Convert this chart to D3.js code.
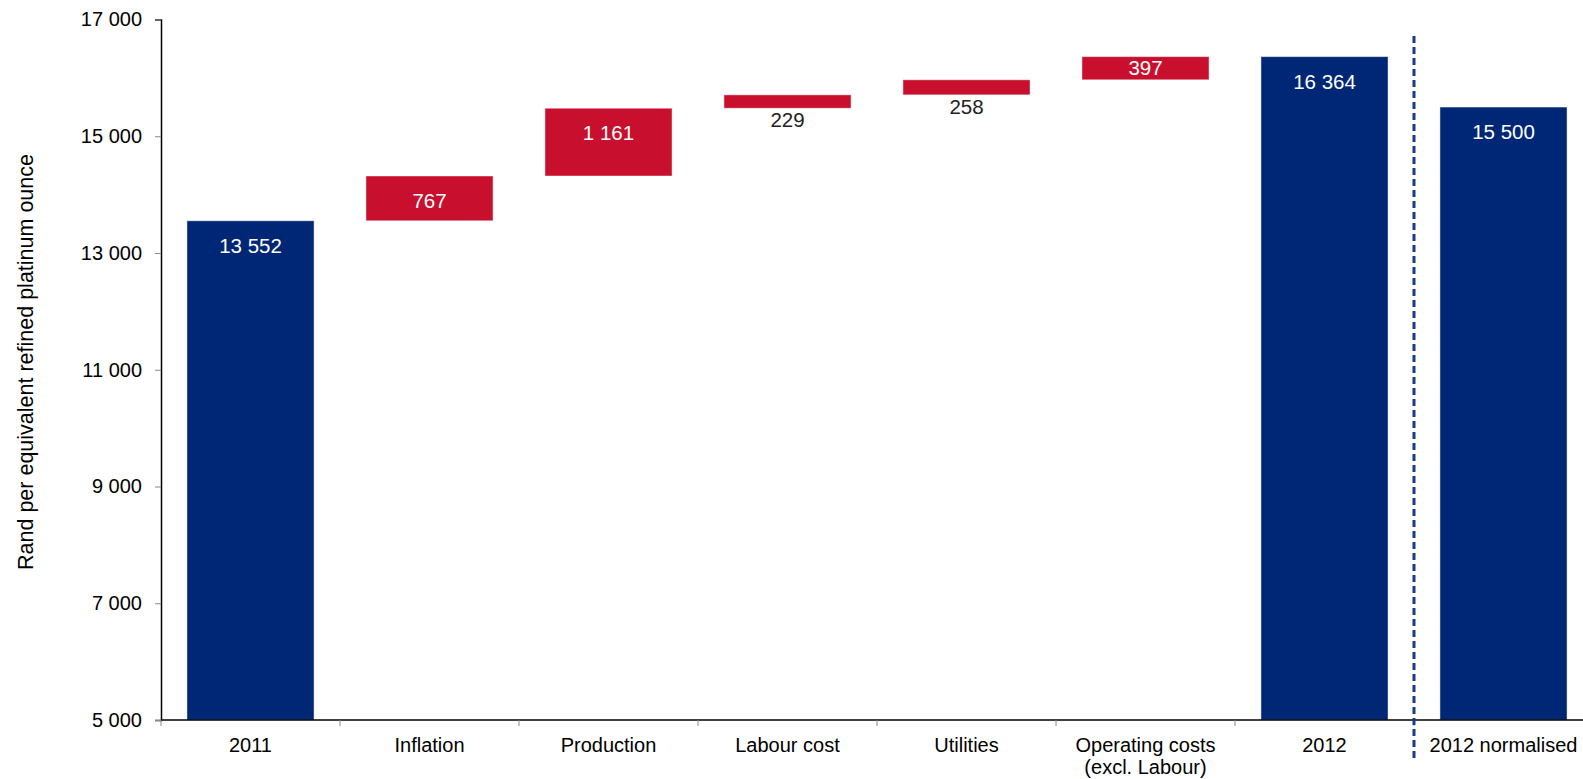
<!DOCTYPE html>
<html>
<head>
<meta charset="utf-8">
<script src="https://cdn.jsdelivr.net/npm/d3@7"></script>
<style>
  body { margin: 0; background: #fff; }
  svg { display: block; font-family: "Liberation Sans", Arial, sans-serif; }
</style>
</head>
<body>
<div id="chart"></div>
<script>
// waterfall: rand per equivalent refined platinum ounce
var categories = ['2011', 'Inflation', 'Production', 'Labour cost', 'Utilities',
  'Operating costs\n(excl. Labour)', '2012', '2012 normalised'];
var kinds = ['total', 'step', 'step', 'step', 'step', 'step', 'total', 'total'];
var values = [13552, 767, 1161, 229, 258, 397, 16364, 15500];
var labels = ['13 552', '767', '1 161', '229', '258', '397', '16 364', '15 500'];
var yTicks = [5000, 7000, 9000, 11000, 13000, 15000, 17000];
var yTickLabels = ['5 000', '7 000', '9 000', '11 000', '13 000', '15 000', '17 000'];

var W = 1583, H = 779;
var mLeft = 161, mTop = 19.5, mBottom = 720;
var blue = '#002776', red = '#c8102e';

var svg = d3.select('#chart').append('svg')
  .attr('width', W)
  .attr('height', H);

var x = d3.scaleBand()
  .domain(categories)
  .range([mLeft, mLeft + 179 * 8])
  .paddingInner(0.29)
  .paddingOuter(0.145);

var y = d3.scaleLinear()
  .domain([5000, 17000])
  .range([mBottom, mTop]);

// build the running totals
var bars = [];
var run = 0;
for (var i = 0; i < values.length; i++) {
  var lo, hi;
  if (kinds[i] === 'total') {
    lo = 5000; hi = values[i];
    if (i === 0) run = values[i];
  } else {
    lo = run; hi = run + values[i];
    run = hi;
  }
  bars.push({cat: categories[i], lo: lo, hi: hi, kind: kinds[i], label: labels[i]});
}

svg.selectAll('rect.bar').data(bars)
  .enter()
    .append('rect')
      .attr('class', 'bar')
      .attr('x', function(d) { return x(d.cat); })
      .attr('y', function(d) { return y(d.hi); })
      .attr('width', x.bandwidth())
      .attr('height', function(d) { return y(d.lo) - y(d.hi); })
      .attr('fill', function(d) { return d.kind === 'total' ? blue : red; })
      .attr('stroke', 'rgba(255,255,255,0.45)')
      .attr('stroke-width', 1);

// value labels
svg.selectAll('text.val').data(bars)
  .enter()
    .append('text')
      .attr('class', 'val')
      .attr('x', function(d) { return x(d.cat) + x.bandwidth() / 2; })
      .attr('y', function(d) {
        var h = y(d.lo) - y(d.hi);
        if (h > 40) return y(d.hi) + 32;
        if (h > 20) return y(d.hi) + h / 2 + 7;
        return y(d.lo) + 19;
      })
      .attr('text-anchor', 'middle')
      .attr('font-size', 20.5)
      .attr('fill', function(d) {
        return (y(d.lo) - y(d.hi) > 20) ? '#fff' : '#222';
      })
      .text(function(d) { return d.label; });

// y axis
var yAxis = d3.axisLeft(y)
  .tickValues(yTicks)
  .tickSize(6)
  .tickPadding(13)
  .tickFormat(function(d, i) { return yTickLabels[i]; });

var gy = svg.append('g')
  .attr('transform', 'translate(' + mLeft + ',0)')
  .call(yAxis);
gy.select('.domain').attr('stroke', '#000').attr('stroke-width', 1.5);
gy.selectAll('.tick line').attr('stroke', '#888');
gy.selectAll('.tick text')
  .attr('font-size', 20)
  .attr('fill', '#000')
  .attr('font-family', '"Liberation Sans", Arial, sans-serif');

// x axis: line plus ticks at band edges
svg.append('line')
  .attr('x1', mLeft).attr('x2', W)
  .attr('y1', mBottom).attr('y2', mBottom)
  .attr('stroke', '#000')
  .attr('stroke-width', 1.5);

var edges = categories.map(function(c) { return x(c) - x.step() * 0.145; });
svg.selectAll('line.xtick').data(edges)
  .enter()
    .append('line')
      .attr('class', 'xtick')
      .attr('x1', function(d) { return d; })
      .attr('x2', function(d) { return d; })
      .attr('y1', mBottom)
      .attr('y2', mBottom + 6)
      .attr('stroke', '#888');

var xl = svg.selectAll('text.cat').data(categories)
  .enter()
    .append('text')
      .attr('class', 'cat')
      .attr('x', function(d) { return x(d) + x.bandwidth() / 2; })
      .attr('y', 752)
      .attr('text-anchor', 'middle')
      .attr('font-size', 20)
      .attr('fill', '#000');
xl.each(function(d) {
  var parts = d.split('\n');
  var t = d3.select(this);
  parts.forEach(function(p, k) {
    t.append('tspan')
      .attr('x', t.attr('x'))
      .attr('dy', k === 0 ? 0 : 22)
      .text(p);
  });
});

// separator before the normalised bar
var sepX = x('2012 normalised') - x.step() * 0.145;
svg.append('line')
  .attr('x1', sepX).attr('x2', sepX)
  .attr('y1', 36).attr('y2', 762)
  .attr('stroke', '#1a3a8a')
  .attr('stroke-width', 3)
  .attr('stroke-dasharray', '7,4');

// y axis title
svg.append('text')
  .attr('transform', 'translate(33,362) rotate(-90)')
  .attr('text-anchor', 'middle')
  .attr('font-size', 21.5)
  .attr('fill', '#000')
  .text('Rand per equivalent refined platinum ounce');
</script>
</body>
</html>
